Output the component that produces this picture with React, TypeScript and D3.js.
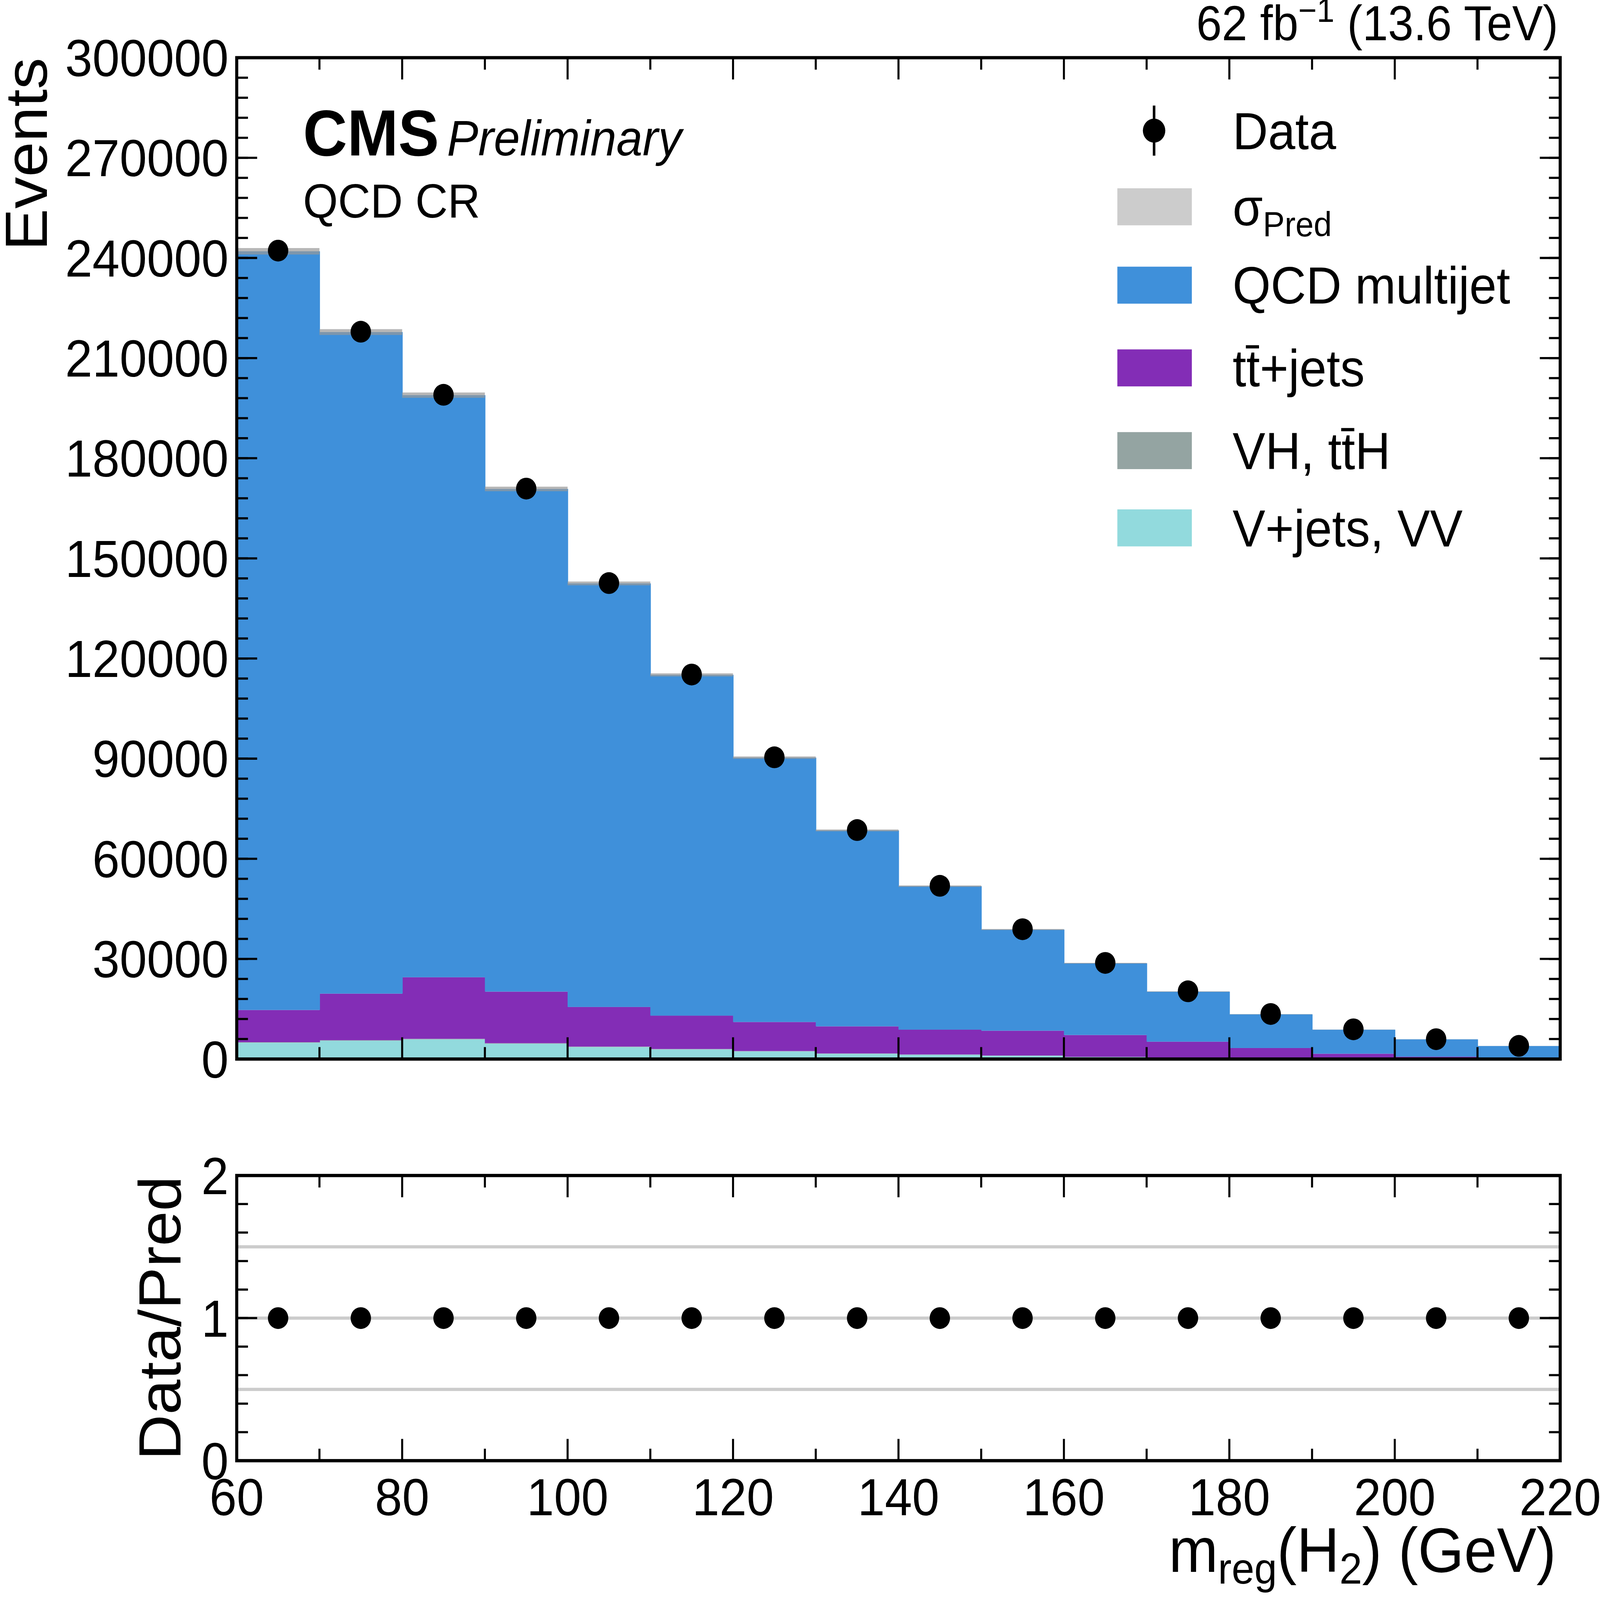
import { useEffect, useRef } from 'react'
import * as d3 from 'd3'

// bin edges 60..220, 10 GeV wide
const binLow = [60, 70, 80, 90, 100, 110, 120, 130, 140, 150, 160, 170, 180, 190, 200, 210]
const vjets = [4900, 5500, 5900, 4600, 3600, 2900, 2300, 1600, 1300, 1000, 600, 400, 200, 100, 50, 20]
const vh = [150, 150, 150, 140, 120, 100, 90, 70, 60, 50, 40, 30, 20, 10, 5, 3]
const ttbar = [9650, 13950, 18450, 15460, 11880, 10000, 8710, 8130, 7440, 7450, 6560, 4770, 3080, 1490, 645, 277]
const qcd = [227300, 198200, 174400, 150600, 126900, 102100, 79200, 58700, 43000, 30300, 21500, 15000, 10100, 7200, 5200, 3600]
const dataVals = [242200, 217900, 199000, 170900, 142600, 115200, 90400, 68600, 51900, 38900, 28800, 20300, 13500, 8900, 5950, 3950]
const yTicks = [0, 30000, 60000, 90000, 120000, 150000, 180000, 210000, 240000, 270000, 300000]
const xTicks = [60, 80, 100, 120, 140, 160, 180, 200, 220]
const ratioTicks = [0, 1, 2]

const colors = { qcd: '#3f90da', tt: '#832db6', vh: '#94a4a2', vjets: '#92dadd', sigma: '#cccccc' }
const FONT = '"Liberation Sans", Arial, sans-serif'

const App = () => {
  const svgRef = useRef<SVGSVGElement>(null)

  useEffect(() => {
    if (!svgRef.current) return
    const svg = d3.select(svgRef.current)
    svg.selectAll('*').remove()

    const L = 232, R = 1529, T = 53, B = 973
    const rT = 1080, rB = 1342
    const x = d3.scaleLinear().domain([60, 220]).range([L, R])
    const y = d3.scaleLinear().domain([0, 300000]).range([B, T])
    const yr = d3.scaleLinear().domain([0, 2]).range([rB, rT])

    const layers = [
      { vals: vjets, color: colors.vjets },
      { vals: vh, color: colors.vh },
      { vals: ttbar, color: colors.tt },
      { vals: qcd, color: colors.qcd },
    ]
    const base = binLow.map(() => 0)
    layers.forEach(layer => {
      binLow.forEach((lo, i) => {
        const y0 = base[i], y1 = base[i] + layer.vals[i]
        svg.append('rect')
          .attr('x', x(lo)).attr('width', x(lo + 10) - x(lo) + 0.5)
          .attr('y', y(y1)).attr('height', y(y0) - y(y1))
          .attr('fill', layer.color)
        base[i] = y1
      })
    })
    // prediction uncertainty band (thin)
    binLow.forEach((lo, i) => {
      svg.append('rect')
        .attr('x', x(lo)).attr('width', x(lo + 10) - x(lo))
        .attr('y', y(base[i] * 1.004)).attr('height', y(base[i] * 0.996) - y(base[i] * 1.004))
        .attr('fill', '#999').attr('opacity', 0.7)
    })

    binLow.forEach((lo, i) => {
      svg.append('circle').attr('cx', x(lo + 5)).attr('cy', y(dataVals[i])).attr('r', 10).attr('fill', '#000')
    })

    // ratio panel
    ;[0.5, 1, 1.5].forEach(v => {
      svg.append('line').attr('x1', L).attr('x2', R).attr('y1', yr(v)).attr('y2', yr(v))
        .attr('stroke', colors.sigma).attr('stroke-width', 3)
    })
    binLow.forEach((lo, i) => {
      const r = dataVals[i] / dataVals[i]
      svg.append('circle').attr('cx', x(lo + 5)).attr('cy', yr(r)).attr('r', 10).attr('fill', '#000')
    })

    // frames and ticks
    const drawFrame = (top: number, bottom: number, ys: d3.ScaleLinear<number, number>, major: number[], minor: number[], labels: boolean) => {
      const g = svg.append('g')
      g.append('rect').attr('x', L).attr('y', top).attr('width', R - L).attr('height', bottom - top)
        .attr('fill', 'none').attr('stroke', '#000').attr('stroke-width', 3)
      const tick = (x1: number, y1: number, x2: number, y2: number) =>
        g.append('line').attr('x1', x1).attr('y1', y1).attr('x2', x2).attr('y2', y2).attr('stroke', '#000').attr('stroke-width', 2)
      d3.range(60, 221, 10).forEach(v => {
        const len = v % 20 === 0 ? 20 : 11
        tick(x(v), bottom, x(v), bottom - len)
        tick(x(v), top, x(v), top + len)
      })
      major.forEach(v => { tick(L, ys(v), L + 20, ys(v)); tick(R, ys(v), R - 20, ys(v)) })
      minor.forEach(v => { tick(L, ys(v), L + 11, ys(v)); tick(R, ys(v), R - 11, ys(v)) })
      if (labels) {
        xTicks.forEach(v => {
          g.append('text').attr('x', x(v)).attr('y', bottom + 50).attr('text-anchor', 'middle')
            .style('font-family', FONT).style('font-size', '48px').text(v)
        })
      }
    }
    drawFrame(T, B, y, yTicks, d3.range(0, 300001, 6000), false)
    drawFrame(rT, rB, yr, ratioTicks, d3.range(0, 2.001, 0.2), true)

    yTicks.forEach(v => {
      svg.append('text').attr('x', L - 8).attr('y', y(v) + 17).attr('text-anchor', 'end')
        .style('font-family', FONT).style('font-size', '48px').text(v)
    })
    ratioTicks.forEach(v => {
      svg.append('text').attr('x', L - 8).attr('y', yr(v) + 17).attr('text-anchor', 'end')
        .style('font-family', FONT).style('font-size', '48px').text(v)
    })

    const txt = (s: string, xx: number, yy: number, size: number, anchor = 'start') =>
      svg.append('text').attr('x', xx).attr('y', yy).attr('text-anchor', anchor)
        .style('font-family', FONT).style('font-size', `${size}px`).text(s)

    // axis titles
    svg.append('text').attr('transform', `translate(46,${T}) rotate(-90)`).attr('text-anchor', 'end')
      .style('font-family', FONT).style('font-size', '58px').text('Events')
    svg.append('text').attr('transform', `translate(177,${(rT + rB) / 2}) rotate(-90)`).attr('text-anchor', 'middle')
      .style('font-family', FONT).style('font-size', '58px').text('Data/Pred')
    const xl = svg.append('text').attr('x', 1525).attr('y', 1444).attr('text-anchor', 'end')
      .style('font-family', FONT).style('font-size', '58px')
    xl.append('tspan').text('m')
    xl.append('tspan').attr('dy', 11).style('font-size', '40px').text('reg')
    xl.append('tspan').attr('dy', -11).text('(H')
    xl.append('tspan').attr('dy', 11).style('font-size', '40px').text('2')
    xl.append('tspan').attr('dy', -11).text(') (GeV)')

    // header
    const lumi = svg.append('text').attr('x', 1527).attr('y', 37).attr('text-anchor', 'end')
      .style('font-family', FONT).style('font-size', '45px')
    lumi.append('tspan').text('62 fb')
    lumi.append('tspan').attr('dy', -17).style('font-size', '31px').text('−1')
    lumi.append('tspan').attr('dy', 17).text(' (13.6 TeV)')
    txt('CMS', 297, 143, 60).style('font-weight', 'bold')
    txt('Preliminary', 438, 143, 46).style('font-style', 'italic')
    txt('QCD CR', 297, 200, 44)

    // legend
    svg.append('line').attr('x1', 1131).attr('x2', 1131).attr('y1', 97).attr('y2', 143).attr('stroke', '#000').attr('stroke-width', 2.5)
    svg.append('circle').attr('cx', 1131).attr('cy', 120).attr('r', 11).attr('fill', '#000')
    txt('Data', 1208, 137, 48)
    const legendItems = [
      { label: 'σ', color: colors.sigma, y: 190 },
      { label: 'QCD multijet', color: colors.qcd, y: 262 },
      { label: 'tt̄+jets', color: colors.tt, y: 338 },
      { label: 'VH, tt̄H', color: colors.vh, y: 414 },
      { label: 'V+jets, VV', color: colors.vjets, y: 485 },
    ]
    legendItems.forEach(item => {
      svg.append('rect').attr('x', 1095).attr('y', item.y - 17).attr('width', 73).attr('height', 34).attr('fill', item.color)
      const t = txt(item.label, 1208, item.y + 17, 48)
      if (item.label === 'σ') t.append('tspan').attr('dy', 10).style('font-size', '32px').text('Pred')
    })
  }, [])

  return (
    <svg ref={svgRef} viewBox="0 0 1568 1470" preserveAspectRatio="none"
      style={{ position: 'fixed', left: 0, top: 0, width: '100vw', height: '100vh', background: '#fff' }} />
  )
}

export default App
